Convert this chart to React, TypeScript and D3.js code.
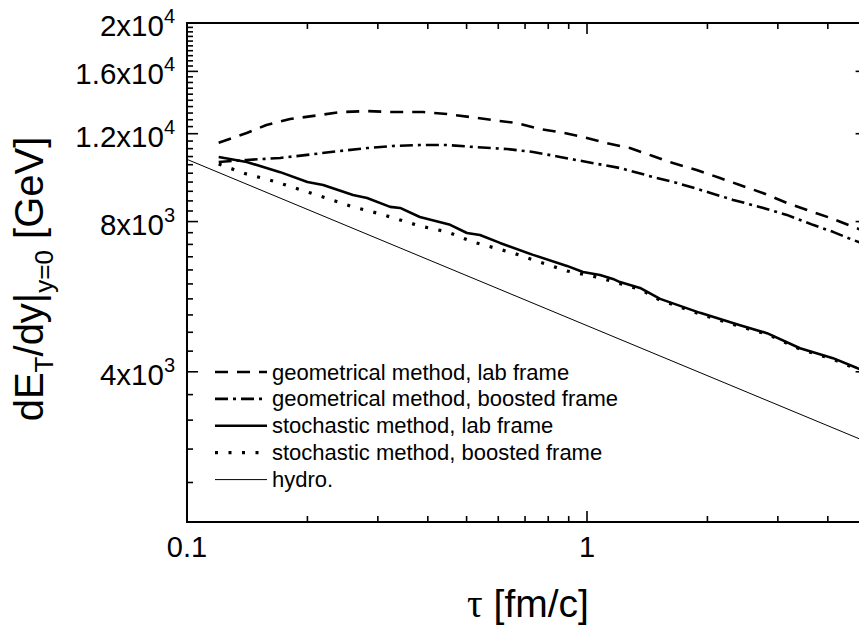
import React from 'react';
import * as d3 from 'd3';

// Canvas and plot frame (the frame runs slightly past the right edge of the canvas)
const WIDTH = 859;
const HEIGHT = 631;
const FRAME = { left: 187, right: 866.6, top: 23, bottom: 522 };

// Axis domains
const tauDomain: [number, number] = [0.1, 5];
const energyDomain: [number, number] = [2000, 20000];

// Tick values
const xMajorTicks = [0.1, 1];
const xMinorTicks = [0.2, 0.3, 0.4, 0.5, 0.6, 0.7, 0.8, 0.9, 2, 3, 4, 5];
const yMajorTicks = [4000, 8000, 12000, 16000, 20000];
const yMinorTicks = d3.range(2000, 20001, 400).filter((v) => !yMajorTicks.includes(v));

// Series: [tau (fm/c), dE_T/dy (GeV)]
const geometricalLab: [number, number][] = [
  [0.12, 11510], [0.141, 12040], [0.158, 12490], [0.181, 12840], [0.215, 13080],
  [0.241, 13260], [0.282, 13320], [0.327, 13260], [0.389, 13260], [0.447, 13140],
  [0.51, 12960], [0.582, 12780], [0.668, 12600], [0.763, 12260], [0.856, 12090],
  [0.977, 11820], [1.12, 11490], [1.28, 11230], [1.46, 10830], [1.64, 10480],
  [1.88, 10150], [2.15, 9780], [2.41, 9470], [2.75, 9130], [3.16, 8720],
  [3.55, 8440], [4.05, 8140], [4.62, 7810], [4.85, 7700],
];

const geometricalBoosted: [number, number][] = [
  [0.12, 10530], [0.141, 10630], [0.171, 10730], [0.207, 10920], [0.241, 11080],
  [0.282, 11230], [0.327, 11340], [0.382, 11390], [0.447, 11390], [0.519, 11290],
  [0.631, 11180], [0.733, 11030], [0.856, 10780], [1.0, 10530], [1.21, 10240],
  [1.46, 9830], [1.68, 9560], [2.0, 9170], [2.32, 8840], [2.7, 8560],
  [3.16, 8250], [3.67, 7880], [4.12, 7630], [4.62, 7350], [4.85, 7250],
];

const stochasticLab: [number, number][] = [
  [0.12, 10780], [0.141, 10530], [0.171, 10050], [0.2, 9600], [0.219, 9470],
  [0.26, 9040], [0.282, 8920], [0.322, 8560], [0.341, 8520], [0.382, 8170],
  [0.455, 7880], [0.501, 7590], [0.54, 7520], [0.606, 7250], [0.733, 6860],
  [0.891, 6520], [0.977, 6340], [1.078, 6250], [1.161, 6140], [1.209, 6050],
  [1.357, 5890], [1.523, 5600], [1.917, 5250], [2.413, 4960], [2.818, 4780],
  [3.408, 4460], [4.121, 4260], [4.732, 4070], [4.85, 4040],
];

const stochasticBoosted: [number, number][] = [
  [0.12, 10430], [0.141, 9960], [0.164, 9650], [0.207, 9090], [0.26, 8560],
  [0.304, 8290], [0.382, 7840], [0.447, 7630], [0.519, 7280], [0.653, 6920],
  [0.761, 6640], [0.891, 6370], [1.06, 6190], [1.2, 6020], [1.36, 5850],
  [1.52, 5570], [1.92, 5220], [2.41, 4930], [2.82, 4760], [3.41, 4440],
  [4.12, 4240], [4.73, 4050], [4.85, 4020],
];

const hydro: [number, number][] = [
  [0.1, 10660], [5, 2895],
];

const legendLabels = [
  'geometrical method, lab frame',
  'geometrical method, boosted frame',
  'stochastic method, lab frame',
  'stochastic method, boosted frame',
  'hydro.',
];

const SANS = '"Liberation Sans", Arial, Helvetica, sans-serif';
const SERIF = '"Liberation Serif", "Times New Roman", serif';

type Style = { width: number; dash?: string };

const seriesList: { data: [number, number][]; style: Style }[] = [
  { data: geometricalLab, style: { width: 2.6, dash: '13 9' } },
  { data: geometricalBoosted, style: { width: 2.6, dash: '13 5 3 5' } },
  { data: stochasticLab, style: { width: 2.6 } },
  { data: stochasticBoosted, style: { width: 3.2, dash: '3 10.5' } },
  { data: hydro, style: { width: 1 } },
];

function splitPow(v: number) {
  const exp = Math.floor(Math.log10(v) + 1e-9);
  const mant = +(v / Math.pow(10, exp)).toFixed(3);
  return { mant: String(mant), exp: String(exp) };
}

export default function App() {
  const x = d3.scaleLog().domain(tauDomain).range([FRAME.left, FRAME.right]);
  const y = d3.scaleLog().domain(energyDomain).range([FRAME.bottom, FRAME.top]);
  const line = d3
    .line<[number, number]>()
    .x((d) => x(d[0]))
    .y((d) => y(d[1]));

  const majorLen = 11;
  const minorLen = 6;
  const legendRowsY = legendLabels.map((_, i) => 372 + i * 26.9);

  return (
    <svg
      width={WIDTH}
      height={HEIGHT}
      viewBox={`0 0 ${WIDTH} ${HEIGHT}`}
      style={{ position: 'absolute', left: 0, top: 0, background: '#fff' }}
    >
      <rect x={0} y={0} width={WIDTH} height={HEIGHT} fill="#fff" />

      {/* curves */}
      <g fill="none" stroke="#000" strokeLinejoin="round">
        {seriesList.map((s, i) => (
          <path
            key={i}
            d={line(s.data) || ''}
            strokeWidth={s.style.width}
            strokeDasharray={s.style.dash}
          />
        ))}
      </g>

      {/* frame */}
      <rect
        x={FRAME.left}
        y={FRAME.top}
        width={FRAME.right - FRAME.left}
        height={FRAME.bottom - FRAME.top}
        fill="none"
        stroke="#000"
        strokeWidth={2}
      />

      {/* ticks on all four sides, pointing inward */}
      <g stroke="#000" strokeWidth={1.6}>
        {xMajorTicks.map((t) => (
          <g key={'xM' + t}>
            <line x1={x(t)} x2={x(t)} y1={FRAME.bottom} y2={FRAME.bottom - majorLen} />
            <line x1={x(t)} x2={x(t)} y1={FRAME.top} y2={FRAME.top + majorLen} />
          </g>
        ))}
        {xMinorTicks.map((t) => (
          <g key={'xm' + t}>
            <line x1={x(t)} x2={x(t)} y1={FRAME.bottom} y2={FRAME.bottom - minorLen} />
            <line x1={x(t)} x2={x(t)} y1={FRAME.top} y2={FRAME.top + minorLen} />
          </g>
        ))}
        {yMajorTicks.map((t) => (
          <g key={'yM' + t}>
            <line x1={FRAME.left} x2={FRAME.left + majorLen} y1={y(t)} y2={y(t)} />
            <line x1={FRAME.right} x2={FRAME.right - majorLen} y1={y(t)} y2={y(t)} />
          </g>
        ))}
        {yMinorTicks.map((t) => (
          <g key={'ym' + t}>
            <line x1={FRAME.left} x2={FRAME.left + minorLen} y1={y(t)} y2={y(t)} />
            <line x1={FRAME.right} x2={FRAME.right - minorLen} y1={y(t)} y2={y(t)} />
          </g>
        ))}
      </g>

      {/* x tick labels */}
      <g fontFamily={SANS} fontSize={29} textAnchor="middle" fill="#000">
        {xMajorTicks.map((t) => (
          <text key={'xl' + t} x={x(t)} y={557}>
            {String(t)}
          </text>
        ))}
      </g>

      {/* y tick labels */}
      <g fontFamily={SANS} fontSize={29.5} textAnchor="end" fill="#000">
        {yMajorTicks.map((t) => {
          const { mant, exp } = splitPow(t);
          return (
            <text key={'yl' + t} x={175} y={y(t) + 13}>
              {mant}x10
              <tspan dy={-13} fontSize={20}>
                {exp}
              </tspan>
            </text>
          );
        })}
      </g>

      {/* axis titles */}
      <text x={528} y={617} fontFamily={SANS} fontSize={39} textAnchor="middle" fill="#000">
        <tspan fontFamily={SERIF}>τ</tspan> [fm/c]
      </text>
      <text
        transform="translate(43,279) rotate(-90)"
        fontFamily={SANS}
        fontSize={40}
        textAnchor="middle"
        fill="#000"
      >
        dE
        <tspan dy={10} fontSize={26}>T</tspan>
        <tspan dy={-10}>/dy|</tspan>
        <tspan dy={10} fontSize={26}>y=0</tspan>
        <tspan dy={-10}>{'\u00a0[GeV]'}</tspan>
      </text>

      {/* legend */}
      <g>
        {legendLabels.map((label, i) => {
          const st = seriesList[i].style;
          const ly = legendRowsY[i];
          return (
            <g key={label}>
              <line
                x1={215}
                x2={267}
                y1={ly}
                y2={ly}
                stroke="#000"
                strokeWidth={st.width}
                strokeDasharray={st.dash}
              />
              <text x={272} y={ly + 7.5} fontFamily={SANS} fontSize={22} fill="#000">
                {label}
              </text>
            </g>
          );
        })}
      </g>
    </svg>
  );
}
